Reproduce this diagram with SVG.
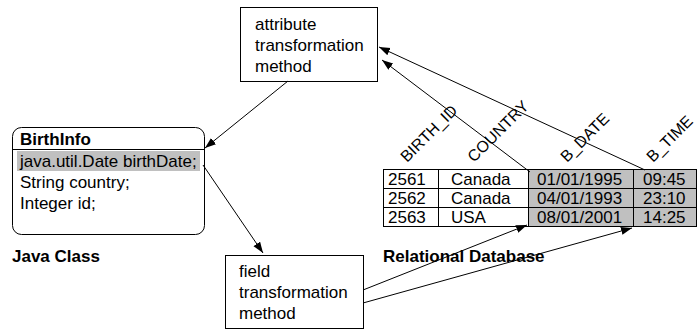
<svg xmlns="http://www.w3.org/2000/svg" width="697" height="330" viewBox="0 0 697 330">
<style>
text{font-family:"Liberation Sans",Arial,sans-serif;font-size:17px;fill:#000}
.b{font-weight:bold}
.h{font-size:16px}
.box{fill:#fff;stroke:#000;stroke-width:1}
.ln{stroke:#000;stroke-width:1;fill:none}
.gray{fill:#c0c0c0}
</style>
<defs>
<marker id="ah" markerWidth="12" markerHeight="10" refX="11" refY="4" orient="auto" markerUnits="userSpaceOnUse">
<path d="M0,0 L11,4 L0,8 Z" fill="#000"/>
</marker>
</defs>
<rect width="697" height="330" fill="#fff"/>

<g id="attr-method">
<rect class="box" x="240.5" y="7.5" width="137" height="74"/>
<text x="255" y="30">attribute</text>
<text x="255" y="51">transformation</text>
<text x="255" y="72">method</text>
</g>

<g id="birthinfo">
<rect class="box" x="12.5" y="127.5" width="192" height="107" rx="9" ry="9"/>
<line class="ln" x1="12.5" y1="149.5" x2="204.5" y2="149.5"/>
<rect class="gray" x="17" y="151" width="183" height="20"/>
<text class="b" x="20" y="145">BirthInfo</text>
<text x="20" y="167">java.util.Date birthDate;</text>
<text x="20" y="188">String country;</text>
<text x="20" y="209">Integer id;</text>
</g>
<text id="java-class-label" class="b" x="12" y="262">Java Class</text>

<g id="field-method">
<rect class="box" x="225.5" y="255.5" width="138" height="73"/>
<text x="239" y="277">field</text>
<text x="239" y="298">transformation</text>
<text x="239" y="319">method</text>
</g>

<g id="table">
<rect class="gray" x="528" y="169" width="169" height="57"/>
<rect class="ln" x="383.5" y="169.5" width="313" height="57"/>
<line class="ln" x1="383" y1="188.5" x2="697" y2="188.5"/>
<line class="ln" x1="383" y1="207.5" x2="697" y2="207.5"/>
<line class="ln" x1="438.5" y1="169" x2="438.5" y2="227"/>
<line class="ln" x1="528.5" y1="169" x2="528.5" y2="227"/>
<line class="ln" x1="633.5" y1="169" x2="633.5" y2="227"/>
<text x="388" y="185">2561</text>
<text x="451" y="185">Canada</text>
<text x="537" y="185">01/01/1995</text>
<text x="643" y="185">09:45</text>
<text x="388" y="204">2562</text>
<text x="451" y="204">Canada</text>
<text x="537" y="204">04/01/1993</text>
<text x="643" y="204">23:10</text>
<text x="388" y="223">2563</text>
<text x="451" y="223">USA</text>
<text x="537" y="223">08/01/2001</text>
<text x="643" y="223">14:25</text>
<text class="h" x="407" y="163" transform="rotate(-45 407 163)">BIRTH_ID</text>
<text class="h" x="474" y="163" transform="rotate(-45 474 163)">COUNTRY</text>
<text class="h" x="567" y="163" transform="rotate(-45 567 163)">B_DATE</text>
<text class="h" x="653" y="163" transform="rotate(-45 653 163)">B_TIME</text>
</g>
<text id="db-label" class="b" x="383" y="262">Relational Database</text>

<g id="connectors">
<line class="ln" x1="288" y1="81" x2="205" y2="148" marker-end="url(#ah)"/>
<line class="ln" x1="203" y1="165" x2="263" y2="253" marker-end="url(#ah)"/>
<line class="ln" x1="530" y1="172" x2="382" y2="60" marker-end="url(#ah)"/>
<line class="ln" x1="645" y1="170" x2="379" y2="47" marker-end="url(#ah)"/>
<line class="ln" x1="363" y1="290" x2="527" y2="225" marker-end="url(#ah)"/>
<line class="ln" x1="363" y1="303" x2="632" y2="228" marker-end="url(#ah)"/>
</g>
</svg>
